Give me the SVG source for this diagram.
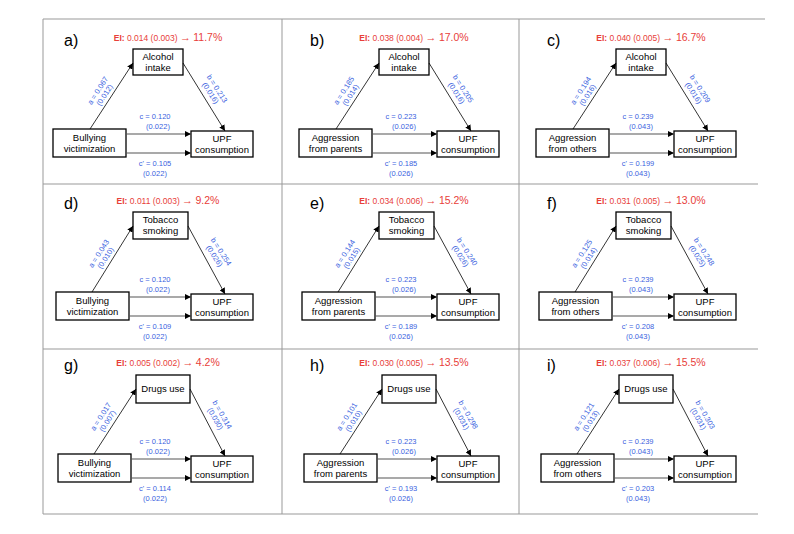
<svg xmlns="http://www.w3.org/2000/svg" width="794" height="534" viewBox="0 0 794 534">
<defs>
<marker id="ah" viewBox="0 0 10 10" refX="10" refY="5" markerWidth="6" markerHeight="6" orient="auto-start-reverse" markerUnits="userSpaceOnUse"><path d="M0,0 L10,5 L0,10 z" fill="#000"/></marker>
<style>
text{font-family:"Liberation Sans","DejaVu Sans",sans-serif}
.box{fill:#fff;stroke:#000;stroke-width:1.3}
.bt{font-size:9.5px;text-anchor:middle;fill:#000}
.lab{font-size:16px;fill:#000}
.ei{font-size:8.5px;text-anchor:middle;fill:#e8403a}
.pct{font-size:10.5px}
.arw{font-size:11px;font-weight:bold}
.co{font-size:7.5px;text-anchor:middle;fill:#3a5fe0}
.ar{stroke:#000;stroke-width:0.8;fill:none;marker-end:url(#ah)}
.arg{stroke:#555;stroke-width:1.2;fill:none;marker-end:url(#ah)}
.grid{stroke:#999;stroke-width:1;fill:none}
</style>
</defs>
<g id="frame" class="grid">
<line x1="43" y1="19" x2="765" y2="19"/>
<line x1="43" y1="514" x2="758" y2="514"/>
<line x1="43" y1="19" x2="43" y2="514"/>
<line x1="282" y1="19" x2="282" y2="514"/>
<line x1="519" y1="19" x2="519" y2="514"/>
<line x1="43" y1="184" x2="758" y2="184"/>
<line x1="43" y1="349" x2="758" y2="349"/>
</g>

<g id="panel-a" transform="translate(0,0)">
<text class="lab" x="64" y="46">a)</text>
<text class="ei" x="168" y="41"><tspan font-weight="bold">EI:</tspan> 0.014 (0.003) <tspan class="arw">→</tspan> <tspan class="pct">11.7%</tspan></text>
<g id="a-med"><rect class="box" x="133" y="49" width="50" height="26"/><text class="bt" x="158" y="60">Alcohol</text><text class="bt" x="158" y="71">intake</text></g>
<g id="a-x"><rect class="box" x="53" y="129" width="73" height="28"/><text class="bt" x="89.5" y="141">Bullying</text><text class="bt" x="89.5" y="152">victimization</text></g>
<g id="a-y"><rect class="box" x="191" y="131" width="62" height="26"/><text class="bt" x="222" y="142">UPF</text><text class="bt" x="222" y="153">consumption</text></g>
<g id="a-conn"><line class="ar" x1="90" y1="129" x2="133" y2="63"/><line class="ar" x1="183" y1="63" x2="225" y2="131"/><line class="arg" x1="126" y1="134" x2="191" y2="134"/><line class="arg" x1="126" y1="153" x2="191" y2="153"/></g>
<text class="co" transform="translate(100,92) rotate(-57)"><tspan x="0" y="0">a = 0.067</tspan><tspan x="0" y="8">(0.012)</tspan></text>
<text class="co" transform="translate(215,90) rotate(57)"><tspan x="0" y="0">b = 0.213</tspan><tspan x="0" y="8">(0.016)</tspan></text>
<text class="co" x="155" y="119">c = 0.120</text><text class="co" x="158" y="129">(0.022)</text>
<text class="co" x="155" y="166">c' = 0.105</text><text class="co" x="155" y="176">(0.022)</text>
</g>

<g id="panel-b" transform="translate(246,0)">
<text class="lab" x="64" y="46">b)</text>
<text class="ei" x="168" y="41"><tspan font-weight="bold">EI:</tspan> 0.038 (0.004) <tspan class="arw">→</tspan> <tspan class="pct">17.0%</tspan></text>
<g id="b-med"><rect class="box" x="133" y="49" width="50" height="26"/><text class="bt" x="158" y="60">Alcohol</text><text class="bt" x="158" y="71">intake</text></g>
<g id="b-x"><rect class="box" x="53" y="129" width="73" height="28"/><text class="bt" x="89.5" y="141">Aggression</text><text class="bt" x="89.5" y="152">from parents</text></g>
<g id="b-y"><rect class="box" x="191" y="131" width="62" height="26"/><text class="bt" x="222" y="142">UPF</text><text class="bt" x="222" y="153">consumption</text></g>
<g id="b-conn"><line class="ar" x1="90" y1="129" x2="133" y2="63"/><line class="ar" x1="183" y1="63" x2="225" y2="131"/><line class="arg" x1="126" y1="134" x2="191" y2="134"/><line class="arg" x1="126" y1="153" x2="191" y2="153"/></g>
<text class="co" transform="translate(100,92) rotate(-57)"><tspan x="0" y="0">a = 0.185</tspan><tspan x="0" y="8">(0.014)</tspan></text>
<text class="co" transform="translate(215,90) rotate(57)"><tspan x="0" y="0">b = 0.205</tspan><tspan x="0" y="8">(0.016)</tspan></text>
<text class="co" x="155" y="119">c = 0.223</text><text class="co" x="158" y="129">(0.026)</text>
<text class="co" x="155" y="166">c' = 0.185</text><text class="co" x="155" y="176">(0.026)</text>
</g>

<g id="panel-c" transform="translate(483,0)">
<text class="lab" x="64" y="46">c)</text>
<text class="ei" x="168" y="41"><tspan font-weight="bold">EI:</tspan> 0.040 (0.005) <tspan class="arw">→</tspan> <tspan class="pct">16.7%</tspan></text>
<g id="c-med"><rect class="box" x="133" y="49" width="50" height="26"/><text class="bt" x="158" y="60">Alcohol</text><text class="bt" x="158" y="71">intake</text></g>
<g id="c-x"><rect class="box" x="53" y="129" width="73" height="28"/><text class="bt" x="89.5" y="141">Aggression</text><text class="bt" x="89.5" y="152">from others</text></g>
<g id="c-y"><rect class="box" x="191" y="131" width="62" height="26"/><text class="bt" x="222" y="142">UPF</text><text class="bt" x="222" y="153">consumption</text></g>
<g id="c-conn"><line class="ar" x1="90" y1="129" x2="133" y2="63"/><line class="ar" x1="183" y1="63" x2="225" y2="131"/><line class="arg" x1="126" y1="134" x2="191" y2="134"/><line class="arg" x1="126" y1="153" x2="191" y2="153"/></g>
<text class="co" transform="translate(100,92) rotate(-57)"><tspan x="0" y="0">a = 0.194</tspan><tspan x="0" y="8">(0.016)</tspan></text>
<text class="co" transform="translate(215,90) rotate(57)"><tspan x="0" y="0">b = 0.209</tspan><tspan x="0" y="8">(0.016)</tspan></text>
<text class="co" x="155" y="119">c = 0.239</text><text class="co" x="158" y="129">(0.043)</text>
<text class="co" x="155" y="166">c' = 0.199</text><text class="co" x="155" y="176">(0.043)</text>
</g>

<g id="panel-d" transform="translate(0,163)">
<text class="lab" x="64" y="46">d)</text>
<text class="ei" x="168" y="41"><tspan font-weight="bold">EI:</tspan> 0.011 (0.003) <tspan class="arw">→</tspan> <tspan class="pct">9.2%</tspan></text>
<g id="d-med"><rect class="box" x="133" y="49" width="55" height="27"/><text class="bt" x="160.5" y="60">Tobacco</text><text class="bt" x="160.5" y="71">smoking</text></g>
<g id="d-x"><rect class="box" x="56" y="129" width="73" height="28"/><text class="bt" x="92.5" y="141">Bullying</text><text class="bt" x="92.5" y="152">victimization</text></g>
<g id="d-y"><rect class="box" x="191" y="131" width="62" height="26"/><text class="bt" x="222" y="142">UPF</text><text class="bt" x="222" y="153">consumption</text></g>
<g id="d-conn"><line class="ar" x1="92" y1="129" x2="133" y2="63"/><line class="ar" x1="188" y1="63" x2="225" y2="131"/><line class="arg" x1="129" y1="134" x2="191" y2="134"/><line class="arg" x1="129" y1="153" x2="191" y2="153"/></g>
<text class="co" transform="translate(101,92) rotate(-57)"><tspan x="0" y="0">a = 0.043</tspan><tspan x="0" y="8">(0.010)</tspan></text>
<text class="co" transform="translate(219,90) rotate(57)"><tspan x="0" y="0">b = 0.254</tspan><tspan x="0" y="8">(0.026)</tspan></text>
<text class="co" x="155" y="119">c = 0.120</text><text class="co" x="158" y="129">(0.022)</text>
<text class="co" x="155" y="166">c' = 0.109</text><text class="co" x="155" y="176">(0.022)</text>
</g>

<g id="panel-e" transform="translate(246,163)">
<text class="lab" x="64" y="46">e)</text>
<text class="ei" x="168" y="41"><tspan font-weight="bold">EI:</tspan> 0.034 (0.006) <tspan class="arw">→</tspan> <tspan class="pct">15.2%</tspan></text>
<g id="e-med"><rect class="box" x="133" y="49" width="55" height="27"/><text class="bt" x="160.5" y="60">Tobacco</text><text class="bt" x="160.5" y="71">smoking</text></g>
<g id="e-x"><rect class="box" x="56" y="129" width="73" height="28"/><text class="bt" x="92.5" y="141">Aggression</text><text class="bt" x="92.5" y="152">from parents</text></g>
<g id="e-y"><rect class="box" x="191" y="131" width="62" height="26"/><text class="bt" x="222" y="142">UPF</text><text class="bt" x="222" y="153">consumption</text></g>
<g id="e-conn"><line class="ar" x1="92" y1="129" x2="133" y2="63"/><line class="ar" x1="188" y1="63" x2="225" y2="131"/><line class="arg" x1="129" y1="134" x2="191" y2="134"/><line class="arg" x1="129" y1="153" x2="191" y2="153"/></g>
<text class="co" transform="translate(101,92) rotate(-57)"><tspan x="0" y="0">a = 0.144</tspan><tspan x="0" y="8">(0.015)</tspan></text>
<text class="co" transform="translate(219,90) rotate(57)"><tspan x="0" y="0">b = 0.240</tspan><tspan x="0" y="8">(0.026)</tspan></text>
<text class="co" x="155" y="119">c = 0.223</text><text class="co" x="158" y="129">(0.026)</text>
<text class="co" x="155" y="166">c' = 0.189</text><text class="co" x="155" y="176">(0.026)</text>
</g>

<g id="panel-f" transform="translate(483,163)">
<text class="lab" x="64" y="46">f)</text>
<text class="ei" x="168" y="41"><tspan font-weight="bold">EI:</tspan> 0.031 (0.005) <tspan class="arw">→</tspan> <tspan class="pct">13.0%</tspan></text>
<g id="f-med"><rect class="box" x="133" y="49" width="55" height="27"/><text class="bt" x="160.5" y="60">Tobacco</text><text class="bt" x="160.5" y="71">smoking</text></g>
<g id="f-x"><rect class="box" x="56" y="129" width="73" height="28"/><text class="bt" x="92.5" y="141">Aggression</text><text class="bt" x="92.5" y="152">from others</text></g>
<g id="f-y"><rect class="box" x="191" y="131" width="62" height="26"/><text class="bt" x="222" y="142">UPF</text><text class="bt" x="222" y="153">consumption</text></g>
<g id="f-conn"><line class="ar" x1="92" y1="129" x2="133" y2="63"/><line class="ar" x1="188" y1="63" x2="225" y2="131"/><line class="arg" x1="129" y1="134" x2="191" y2="134"/><line class="arg" x1="129" y1="153" x2="191" y2="153"/></g>
<text class="co" transform="translate(101,92) rotate(-57)"><tspan x="0" y="0">a = 0.125</tspan><tspan x="0" y="8">(0.014)</tspan></text>
<text class="co" transform="translate(219,90) rotate(57)"><tspan x="0" y="0">b = 0.248</tspan><tspan x="0" y="8">(0.025)</tspan></text>
<text class="co" x="155" y="119">c = 0.239</text><text class="co" x="158" y="129">(0.043)</text>
<text class="co" x="155" y="166">c' = 0.208</text><text class="co" x="155" y="176">(0.043)</text>
</g>

<g id="panel-g" transform="translate(0,325)">
<text class="lab" x="64" y="46">g)</text>
<text class="ei" x="168" y="41"><tspan font-weight="bold">EI:</tspan> 0.005 (0.002) <tspan class="arw">→</tspan> <tspan class="pct">4.2%</tspan></text>
<g id="g-med"><rect class="box" x="136" y="50" width="54" height="28"/><text class="bt" x="163" y="67">Drugs use</text></g>
<g id="g-x"><rect class="box" x="58" y="129" width="73" height="28"/><text class="bt" x="94.5" y="141">Bullying</text><text class="bt" x="94.5" y="152">victimization</text></g>
<g id="g-y"><rect class="box" x="191" y="131" width="62" height="26"/><text class="bt" x="222" y="142">UPF</text><text class="bt" x="222" y="153">consumption</text></g>
<g id="g-conn"><line class="ar" x1="94" y1="129" x2="136" y2="64"/><line class="ar" x1="190" y1="64" x2="225" y2="131"/><line class="arg" x1="131" y1="134" x2="191" y2="134"/><line class="arg" x1="131" y1="153" x2="191" y2="153"/></g>
<text class="co" transform="translate(103,93) rotate(-57)"><tspan x="0" y="0">a = 0.017</tspan><tspan x="0" y="8">(0.007)</tspan></text>
<text class="co" transform="translate(220,91) rotate(60)"><tspan x="0" y="0">b = 0.314</tspan><tspan x="0" y="8">(0.030)</tspan></text>
<text class="co" x="155" y="119">c = 0.120</text><text class="co" x="158" y="129">(0.022)</text>
<text class="co" x="155" y="166">c' = 0.114</text><text class="co" x="155" y="176">(0.022)</text>
</g>

<g id="panel-h" transform="translate(246,325)">
<text class="lab" x="64" y="46">h)</text>
<text class="ei" x="168" y="41"><tspan font-weight="bold">EI:</tspan> 0.030 (0.005) <tspan class="arw">→</tspan> <tspan class="pct">13.5%</tspan></text>
<g id="h-med"><rect class="box" x="136" y="50" width="54" height="28"/><text class="bt" x="163" y="67">Drugs use</text></g>
<g id="h-x"><rect class="box" x="58" y="129" width="73" height="28"/><text class="bt" x="94.5" y="141">Aggression</text><text class="bt" x="94.5" y="152">from parents</text></g>
<g id="h-y"><rect class="box" x="191" y="131" width="62" height="26"/><text class="bt" x="222" y="142">UPF</text><text class="bt" x="222" y="153">consumption</text></g>
<g id="h-conn"><line class="ar" x1="94" y1="129" x2="136" y2="64"/><line class="ar" x1="190" y1="64" x2="225" y2="131"/><line class="arg" x1="131" y1="134" x2="191" y2="134"/><line class="arg" x1="131" y1="153" x2="191" y2="153"/></g>
<text class="co" transform="translate(103,93) rotate(-57)"><tspan x="0" y="0">a = 0.101</tspan><tspan x="0" y="8">(0.010)</tspan></text>
<text class="co" transform="translate(220,91) rotate(60)"><tspan x="0" y="0">b = 0.298</tspan><tspan x="0" y="8">(0.031)</tspan></text>
<text class="co" x="155" y="119">c = 0.223</text><text class="co" x="158" y="129">(0.026)</text>
<text class="co" x="155" y="166">c' = 0.193</text><text class="co" x="155" y="176">(0.026)</text>
</g>

<g id="panel-i" transform="translate(483,325)">
<text class="lab" x="64" y="46">i)</text>
<text class="ei" x="168" y="41"><tspan font-weight="bold">EI:</tspan> 0.037 (0.006) <tspan class="arw">→</tspan> <tspan class="pct">15.5%</tspan></text>
<g id="i-med"><rect class="box" x="136" y="50" width="54" height="28"/><text class="bt" x="163" y="67">Drugs use</text></g>
<g id="i-x"><rect class="box" x="58" y="129" width="73" height="28"/><text class="bt" x="94.5" y="141">Aggression</text><text class="bt" x="94.5" y="152">from others</text></g>
<g id="i-y"><rect class="box" x="191" y="131" width="62" height="26"/><text class="bt" x="222" y="142">UPF</text><text class="bt" x="222" y="153">consumption</text></g>
<g id="i-conn"><line class="ar" x1="94" y1="129" x2="136" y2="64"/><line class="ar" x1="190" y1="64" x2="225" y2="131"/><line class="arg" x1="131" y1="134" x2="191" y2="134"/><line class="arg" x1="131" y1="153" x2="191" y2="153"/></g>
<text class="co" transform="translate(103,93) rotate(-57)"><tspan x="0" y="0">a = 0.121</tspan><tspan x="0" y="8">(0.013)</tspan></text>
<text class="co" transform="translate(220,91) rotate(60)"><tspan x="0" y="0">b = 0.303</tspan><tspan x="0" y="8">(0.031)</tspan></text>
<text class="co" x="155" y="119">c = 0.239</text><text class="co" x="158" y="129">(0.043)</text>
<text class="co" x="155" y="166">c' = 0.203</text><text class="co" x="155" y="176">(0.043)</text>
</g>
</svg>
